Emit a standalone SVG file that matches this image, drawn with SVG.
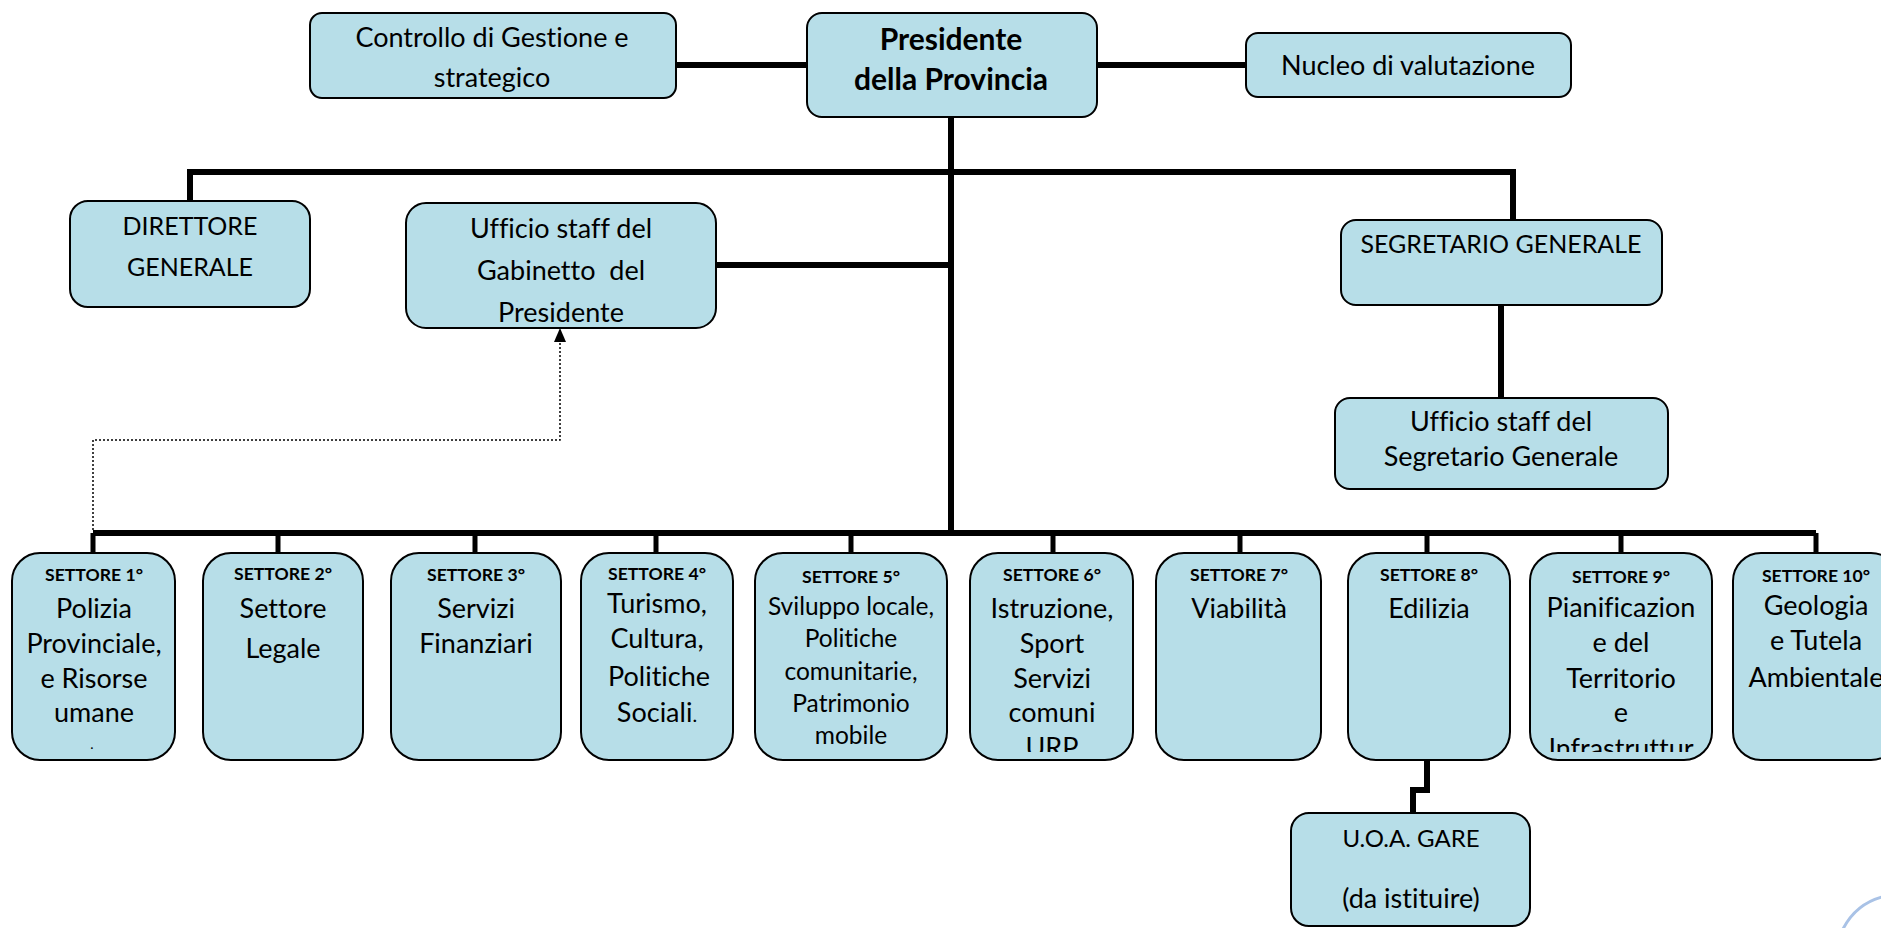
<svg xmlns="http://www.w3.org/2000/svg" width="1881" height="928" viewBox="0 0 1881 928">
<style>
.box{fill:#B7DEE8;stroke:#000;stroke-width:2}
.t{font-family:Lato,"Liberation Sans",sans-serif;font-size:27px;fill:#000;text-anchor:middle;font-variant-ligatures:none;font-feature-settings:"liga" 0,"clig" 0,"dlig" 0}
.b{font-weight:bold;font-size:30px}
.caps{font-size:25px}
.uoa{font-size:24px}
.small{font-size:14px}
.lab{font-family:Lato,"Liberation Sans",sans-serif;font-size:17.6px;font-weight:bold;fill:#000;text-anchor:middle;font-variant-ligatures:none}
.s5{font-size:24.5px}
.con{fill:none;stroke:#000;stroke-width:6;stroke-linejoin:miter}
.stub{fill:none;stroke:#000;stroke-width:5}
.dot{fill:none;stroke:#000;stroke-width:1.5;stroke-dasharray:2 2}
</style>
<defs>
<clipPath id="c6"><rect x="971" y="554" width="161" height="198"/></clipPath>
<clipPath id="c9"><rect x="1531" y="554" width="180" height="198"/></clipPath>
</defs>
<g id="connectors">
<path class="con" d="M676,65 H807"/>
<path class="con" d="M1097,65 H1246"/>
<path class="con" d="M951,117 V536"/>
<path class="con" d="M190,204 V172 H1513 V221"/>
<path class="con" d="M716,265 H951"/>
<path class="con" d="M1501,305 V398"/>
<path class="con" d="M93,533 H1816"/>
<path class="stub" d="M93,533 V554 M278,533 V554 M475,533 V554 M656,533 V554 M851,533 V554 M1053,533 V554 M1240,533 V554 M1427,533 V554 M1621,533 V554 M1816,533 V554"/>
<path class="con" d="M1427,760 V790 H1413 V814"/>
<path class="dot" d="M93,530 V440 H560 V340"/>
<polygon points="560,328 554,342 566,342" fill="#000"/>
</g>
<g id="n-presidente"><rect class="box" x="807" y="13" width="290" height="104" rx="15"/>
<text class="t b" x="951" y="50">Presidente</text>
<text class="t b" x="951" y="90">della Provincia</text></g>
<g id="n-controllo"><rect class="box" x="310" y="13" width="366" height="85" rx="12"/>
<text class="t" x="492" y="47">Controllo di Gestione e</text>
<text class="t" x="492" y="87">strategico</text></g>
<g id="n-nucleo"><rect class="box" x="1246" y="33" width="325" height="64" rx="12"/>
<text class="t" x="1408" y="75">Nucleo di valutazione</text></g>
<g id="n-direttore"><rect class="box" x="70" y="201" width="240" height="106" rx="18"/>
<text class="t caps" x="190" y="235">DIRETTORE</text>
<text class="t caps" x="190" y="276">GENERALE</text></g>
<g id="n-gabinetto"><rect class="box" x="406" y="203" width="310" height="125" rx="20"/>
<text class="t" x="561" y="238">Ufficio staff del</text>
<text class="t" x="561" y="280" xml:space="preserve">Gabinetto  del</text>
<text class="t" x="561" y="322">Presidente</text></g>
<g id="n-segretario"><rect class="box" x="1341" y="220" width="321" height="85" rx="15"/>
<text class="t caps" x="1501" y="253">SEGRETARIO GENERALE</text></g>
<g id="n-staff-segretario"><rect class="box" x="1335" y="398" width="333" height="91" rx="15"/>
<text class="t" x="1501" y="431">Ufficio staff del</text>
<text class="t" x="1501" y="466">Segretario Generale</text></g>
<g id="n-s1"><rect class="box" x="12" y="553" width="163" height="207" rx="28"/>
<text class="lab" x="94" y="581">SETTORE 1°</text>
<text class="t" x="94" y="618">Polizia</text>
<text class="t" x="94" y="653">Provinciale,</text>
<text class="t" x="94" y="688">e Risorse</text>
<text class="t" x="94" y="722">umane</text>
<text class="t small" x="92" y="749">.</text></g>
<g id="n-s2"><rect class="box" x="203" y="553" width="160" height="207" rx="28"/>
<text class="lab" x="283" y="580">SETTORE 2°</text>
<text class="t" x="283" y="618">Settore</text>
<text class="t" x="283" y="658">Legale</text></g>
<g id="n-s3"><rect class="box" x="391" y="553" width="170" height="207" rx="28"/>
<text class="lab" x="476" y="581">SETTORE 3°</text>
<text class="t" x="476" y="618">Servizi</text>
<text class="t" x="476" y="653">Finanziari</text></g>
<g id="n-s4"><rect class="box" x="581" y="553" width="152" height="207" rx="28"/>
<text class="lab" x="657" y="580">SETTORE 4°</text>
<text class="t" x="657" y="613">Turismo,</text>
<text class="t" x="657" y="648">Cultura,</text>
<text class="t" x="659" y="686">Politiche</text>
<text class="t" x="657" y="722">Sociali<tspan style="font-size:20px">.</tspan></text></g>
<g id="n-s5"><rect class="box" x="755" y="553" width="192" height="207" rx="28"/>
<text class="lab" x="851" y="583">SETTORE 5°</text>
<text class="t s5" x="851" y="615">Sviluppo locale,</text>
<text class="t s5" x="851" y="647">Politiche</text>
<text class="t s5" x="851" y="680">comunitarie,</text>
<text class="t s5" x="851" y="712">Patrimonio</text>
<text class="t s5" x="851" y="744">mobile</text></g>
<g id="n-s6"><rect class="box" x="970" y="553" width="163" height="207" rx="28"/>
<text class="lab" x="1052" y="581">SETTORE 6°</text>
<g clip-path="url(#c6)">
<text class="t" x="1052" y="618">Istruzione,</text>
<text class="t" x="1052" y="653">Sport</text>
<text class="t" x="1052" y="688">Servizi</text>
<text class="t" x="1052" y="722">comuni</text>
<text class="t" x="1052" y="757">URP</text></g></g>
<g id="n-s7"><rect class="box" x="1156" y="553" width="165" height="207" rx="28"/>
<text class="lab" x="1239" y="581">SETTORE 7°</text>
<text class="t" x="1239" y="618">Viabilità</text></g>
<g id="n-s8"><rect class="box" x="1348" y="553" width="162" height="207" rx="28"/>
<text class="lab" x="1429" y="581">SETTORE 8°</text>
<text class="t" x="1429" y="618">Edilizia</text></g>
<g id="n-s9"><rect class="box" x="1530" y="553" width="182" height="207" rx="28"/>
<text class="lab" x="1621" y="583">SETTORE 9°</text>
<g clip-path="url(#c9)">
<text class="t" x="1621" y="617">Pianificazion</text>
<text class="t" x="1621" y="652">e del</text>
<text class="t" x="1621" y="688">Territorio</text>
<text class="t" x="1621" y="722">e</text>
<text class="t" x="1621" y="758">Infrastruttur</text></g></g>
<g id="n-s10"><rect class="box" x="1733" y="553" width="166" height="207" rx="28"/>
<text class="lab" x="1816" y="582">SETTORE 10°</text>
<text class="t" x="1816" y="615">Geologia</text>
<text class="t" x="1816" y="650">e Tutela</text>
<text class="t" x="1816" y="687">Ambientale</text></g>
<g id="n-uoa"><rect class="box" x="1291" y="813" width="239" height="113" rx="18"/>
<text class="t uoa" x="1411" y="847">U.O.A. GARE</text>
<text class="t" x="1411" y="908">(da istituire)</text></g>
<path d="M1843,929 Q1856,904 1882,897" fill="none" stroke="#A9C2E6" stroke-width="3"/>
</svg>
